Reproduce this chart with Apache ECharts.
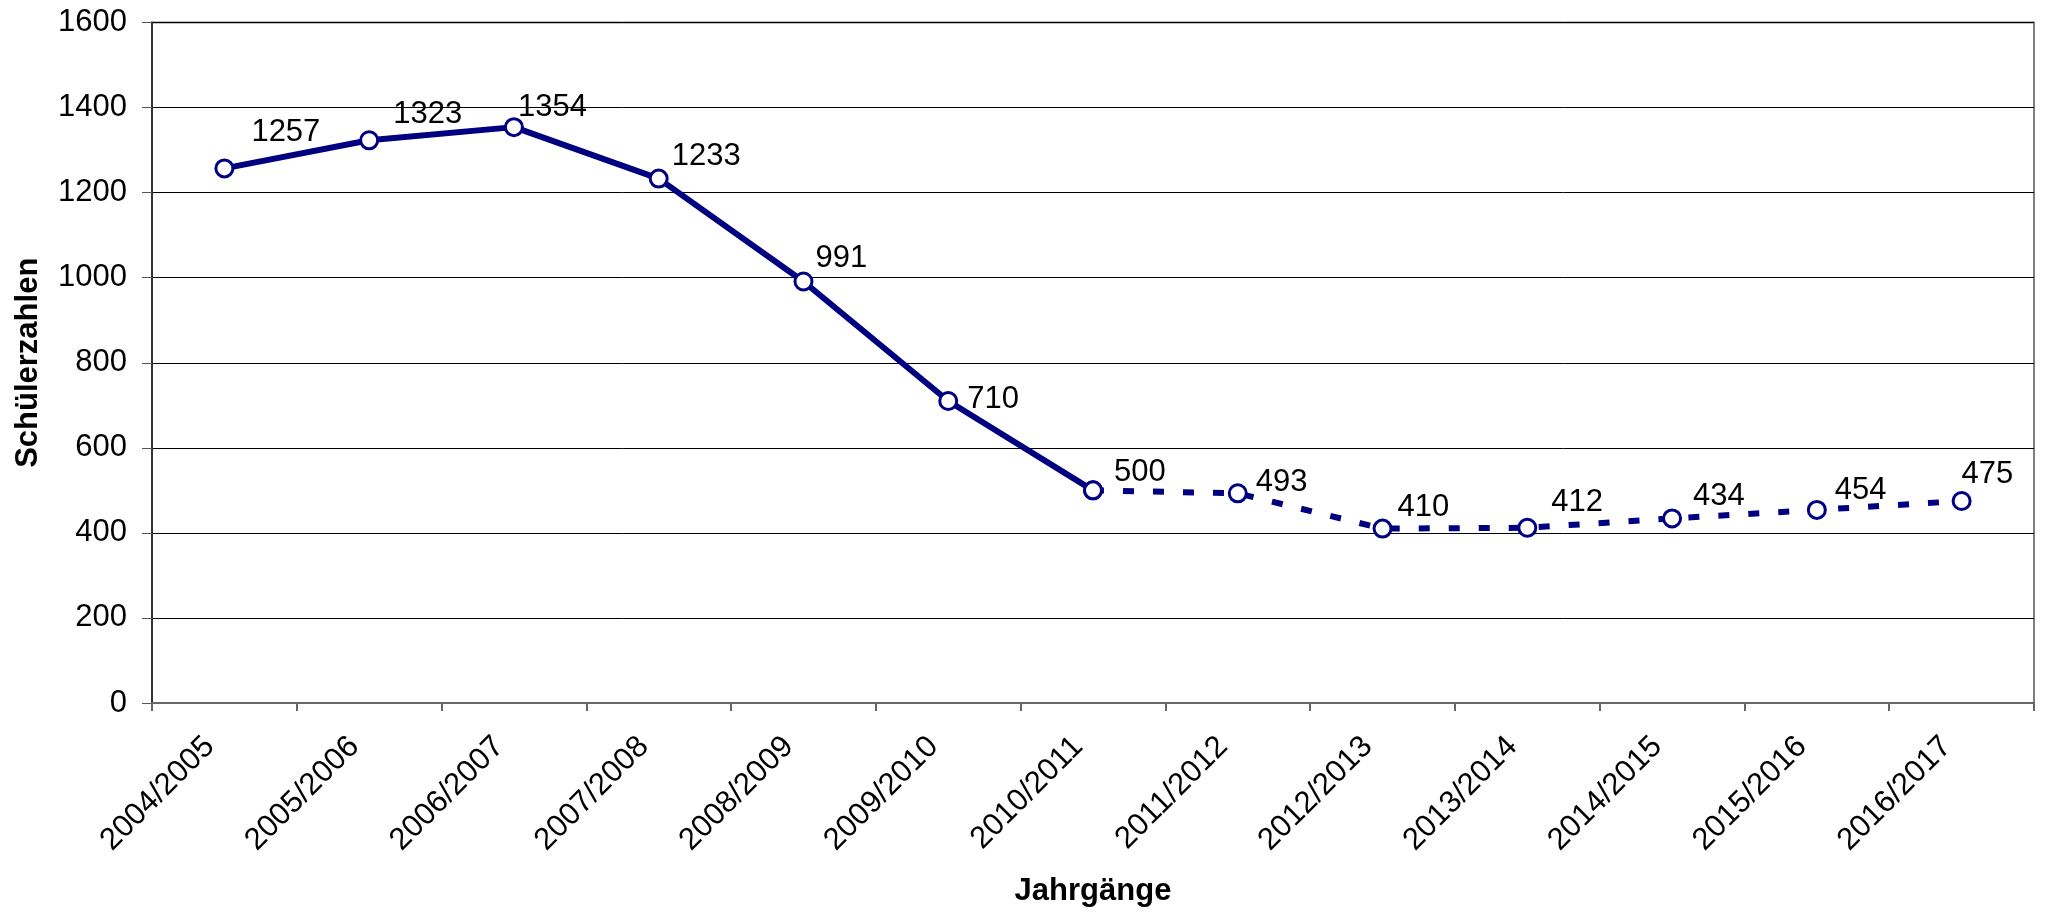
<!DOCTYPE html>
<html>
<head>
<meta charset="utf-8">
<script src="https://cdn.jsdelivr.net/npm/echarts@6/dist/echarts.min.js"></script>
<style>
  html, body { margin: 0; padding: 0; background: #fff; }
  #chart { width: 2047px; height: 912px; }
</style>
</head>
<body>
<div id="chart"></div>
<script>
// School years on the category axis
const jahrgaenge = ['2004/2005', '2005/2006', '2006/2007', '2007/2008', '2008/2009',
  '2009/2010', '2010/2011', '2011/2012', '2012/2013', '2013/2014', '2014/2015',
  '2015/2016', '2016/2017'];

// Pupil numbers per school year
const schuelerzahlen = [1257, 1323, 1354, 1233, 991, 710, 500, 493, 410, 412, 434, 454, 475];

// Index of the last recorded year; later years are the forecast (dashed)
const letzterIstWert = 6;

// Value axis ticks
const yTicks = [0, 200, 400, 600, 800, 1000, 1200, 1400, 1600];

// Where each value label sits relative to its marker [dx, dy]
const labelOffsets = [[27, -36], [24, -26], [4, -20], [13, -22], [12, -23], [19, -2],
  [21, -18], [18, -11], [15, -21], [24, -25], [21, -22], [18, -19], [0, -27]];

const NAVY = '#000080';
const FONT = '"Liberation Sans", Arial, sans-serif';
const FS = 31;

function item(i, showLabel) {
  return {
    value: schuelerzahlen[i],
    label: {
      show: showLabel,
      offset: labelOffsets[i]
    }
  };
}

const istDaten = jahrgaenge.map((_, i) => i <= letzterIstWert ? item(i, true) : '-');
const prognoseDaten = jahrgaenge.map((_, i) =>
  i < letzterIstWert ? '-' : item(i, i > letzterIstWert));

const seriesLabel = {
  show: true,
  position: 'inside',
  align: 'left',
  verticalAlign: 'middle',
  color: '#000',
  fontFamily: FONT,
  fontSize: FS
};

const markerStyle = {
  color: '#fff',
  borderColor: NAVY,
  borderWidth: 3
};

const chart = echarts.init(document.getElementById('chart'), null, { renderer: 'canvas' });

chart.setOption({
  animation: false,
  backgroundColor: '#fff',
  grid: {
    left: 152,
    right: 13,
    top: 22.5,
    bottom: 207,
    show: true,
    borderColor: '#808080',
    borderWidth: 2,
    backgroundColor: 'transparent'
  },
  xAxis: {
    type: 'category',
    data: jahrgaenge,
    boundaryGap: true,
    name: 'Jahrgänge',
    nameLocation: 'middle',
    nameGap: 173,
    nameTextStyle: { fontFamily: FONT, fontSize: FS, fontWeight: 'bold', color: '#000' },
    axisLine: { show: true, lineStyle: { color: '#666', width: 2 } },
    axisTick: { show: true, length: 8, lineStyle: { color: '#666', width: 2 } },
    axisLabel: {
      interval: 0,
      rotate: 45,
      margin: 24,
      padding: [0, 21, 0, 0],
      fontFamily: FONT,
      fontSize: FS,
      color: '#000'
    },
    splitLine: { show: false }
  },
  yAxis: {
    type: 'value',
    min: yTicks[0],
    max: yTicks[yTicks.length - 1],
    interval: yTicks[1] - yTicks[0],
    name: 'Schülerzahlen',
    nameLocation: 'middle',
    nameRotate: 90,
    nameGap: 108,
    nameTextStyle: { fontFamily: FONT, fontSize: FS, fontWeight: 'bold', color: '#000' },
    axisLine: { show: true, lineStyle: { color: '#333', width: 2 } },
    axisTick: { show: true, inside: false, length: 10, lineStyle: { color: '#555', width: 1 } },
    axisLabel: {
      margin: 25,
      fontFamily: FONT,
      fontSize: FS,
      color: '#000',
      formatter: v => String(v)
    },
    splitLine: { show: true, lineStyle: { color: '#000', width: 1 } }
  },
  series: [
    {
      name: 'Ist',
      type: 'line',
      data: istDaten,
      symbol: 'circle',
      symbolSize: 17,
      showAllSymbol: true,
      lineStyle: { color: NAVY, width: 6 },
      itemStyle: markerStyle,
      label: seriesLabel,
      z: 3
    },
    {
      name: 'Prognose',
      type: 'line',
      data: prognoseDaten,
      symbol: 'circle',
      symbolSize: 17,
      showAllSymbol: true,
      lineStyle: { color: NAVY, width: 6, type: [11, 19] },
      itemStyle: markerStyle,
      label: seriesLabel,
      z: 2
    }
  ]
});
</script>
</body>
</html>
